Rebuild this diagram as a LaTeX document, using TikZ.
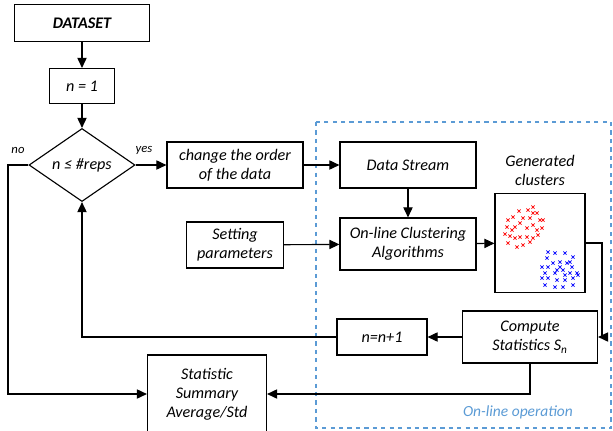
\documentclass[tikz,border=0pt]{standalone}
\usepackage{fontspec}
\setmainfont{Carlito}
\usetikzlibrary{shapes.geometric,arrows.meta}
\definecolor{opblue}{HTML}{5B9BD5}

\begin{document}
\begin{tikzpicture}[x=0.025cm, y=-0.025cm]
    \tikzstyle{box}=[
        draw = black,
        thick,
        fill = white,
        align = center,
        inner sep = 1pt,
        font = \fontsize{11.5}{13.5}\selectfont\itshape
    ]
    \tikzstyle{decision}=[
        draw = black,
        thick,
        diamond,
        inner sep = 0pt,
        minimum width = 2.65cm,
        minimum height = 1.25cm,
        font = \fontsize{11.5}{13.5}\selectfont\itshape
    ]
    \tikzstyle{flow}=[thick, -{Triangle[length=2.5mm, width=2.3mm]}]
    \tikzstyle{tag}=[font = \fontsize{9}{10}\selectfont\itshape]

    \useasboundingbox (0, 0) rectangle (613, 430);

    % on-line part
    \draw[opblue, thick, dashed] (316, 122) rectangle (611, 428);
    \node[tag, opblue, font=\fontsize{11}{13}\selectfont\itshape] (online) at (518, 412) {On-line operation};

	\node[box, minimum width=3.375cm, minimum height=0.925cm, font=\fontsize{11.5}{13.5}\selectfont\bfseries\itshape] (data) at (82, 23) {DATASET};
	\node[box, minimum width=1.625cm, minimum height=0.875cm] (init) at (82, 86) {n = 1};
	\node[decision] (test) at (82, 165) {n ≤ \#reps};
	\node[box, minimum width=3.4cm, minimum height=1.15cm] (order) at (235, 165) {change the order\\of the data};
	\node[box, minimum width=3.4cm, minimum height=1.15cm] (stream) at (408, 165) {Data Stream};
	\node[box, minimum width=3.4cm, minimum height=1.3cm] (clust) at (408, 244) {On-line Clustering\\Algorithms};
	\node[box, minimum width=2.425cm, minimum height=1.15cm] (param) at (235, 245) {Setting\\parameters};
	\node[box, minimum width=2.25cm, minimum height=2.475cm] (res) at (540, 243) {};
	\node[box, draw=none, fill=none] (reslabel) at (540, 170) {Generated\\clusters};
	\node[box, minimum width=3.375cm, minimum height=1.3cm] (comp) at (530, 337) {Compute\\Statistics S\textsubscript{n}};
	\node[box, minimum width=2.25cm, minimum height=0.9cm] (incr) at (382, 337) {n=n+1};
	\node[box, minimum width=2.975cm, minimum height=1.95cm] (summ) at (207, 394) {Statistic\\Summary\\Average/Std};

    \node[tag] (no) at (18, 150) {no};
    \node[tag] (yes) at (144, 150) {yes};

    \coordinate (backturn) at (602, 300);
    \coordinate (noturn) at (8, 300);

    % clusters
    \foreach \p in {(508,220), (513,217), (519,211), (528,210), (533,207), (537,213),
        (530,218), (523,218), (520,223), (515,227), (507,227), (512,230), (527,228),
        (533,225), (540,220), (542,228), (538,235), (533,238), (527,237), (520,237),
        (515,238), (510,236), (505,234), (508,243), (517,247), (523,245), (530,242),
        (537,230), (543,220), (533,213)}
        \draw[red, line width=0.5pt] \p +(-1.6,-1.6) -- +(1.6,1.6) +(-1.6,1.6) -- +(1.6,-1.6);
    \foreach \p in {(548,252), (555,253), (565,253), (573,257), (547,258), (553,263),
        (560,262), (567,263), (542,267), (548,267), (557,270), (563,270), (572,267),
        (577,273), (570,273), (565,275), (555,273), (545,273), (542,278), (548,278),
        (557,280), (565,280), (573,278), (578,275), (545,285), (555,287), (563,287),
        (573,285), (560,267), (570,262)}
        \draw[blue, line width=0.5pt] \p +(-1.6,-1.6) -- +(1.6,1.6) +(-1.6,1.6) -- +(1.6,-1.6);

	\draw[flow] (data) -- (init);
	\draw[flow] (init) -- (test);
	\draw[flow] (test) -- (order);
	\draw[flow] (order) -- (stream);
	\draw[flow] (stream) -- (clust);
	\draw[flow] (param) -- (clust);
	\draw[flow] (clust) -- (res);
	\draw[flow] (res.east) -| (backturn) |- (comp.east);
	\draw[flow] (comp) -- (incr);
	\draw[flow] (incr.west) -| (test.south);
	\draw[flow] (test.west) -| (noturn) |- (summ.west);
	\draw[flow] (comp.south) |- (summ.east);

\end{tikzpicture}
\end{document}
